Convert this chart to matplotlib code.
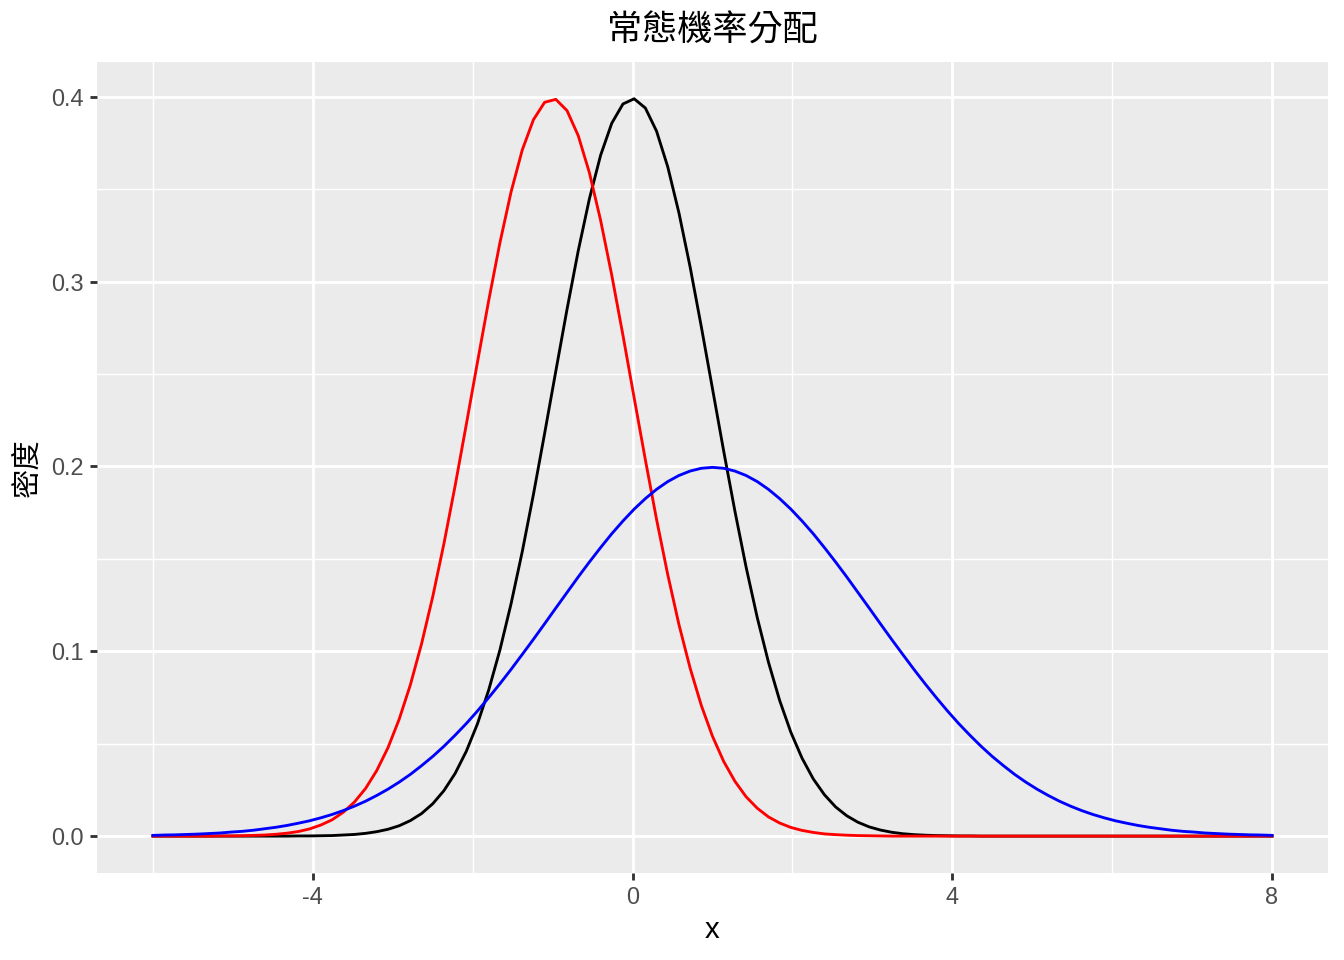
import numpy as np
import matplotlib
matplotlib.use("Agg")
import matplotlib.pyplot as plt

# curve sample points (101 points across the plotted range)
x_vals = np.linspace(-6, 8, 101)

# N(0, 1) - black
y_black = [
    0.0, 0.0, 0.0, 0.0, 0.0, 0.0, 0.0, 0.0, 0.0, 0.0, 0.0, 0.0, 0.0,
    0.0001, 0.0001, 0.0002, 0.0003, 0.0006, 0.0009, 0.0015, 0.0024, 0.0037,
    0.0056, 0.0084, 0.0122, 0.0175, 0.0246, 0.0339, 0.0459, 0.0608, 0.0790,
    0.1006, 0.1257, 0.1539, 0.1849, 0.2179, 0.2516, 0.2850, 0.3166, 0.3448,
    0.3683, 0.3857, 0.3961, 0.3989, 0.3939, 0.3814, 0.3621, 0.3372, 0.3079,
    0.2756, 0.2420, 0.2083, 0.1759, 0.1456, 0.1182, 0.0941, 0.0734, 0.0562,
    0.0422, 0.0310, 0.0224, 0.0158, 0.0110, 0.0075, 0.0050, 0.0033, 0.0021,
    0.0013, 0.0008, 0.0005, 0.0003, 0.0002, 0.0001, 0.0001,
    0.0, 0.0, 0.0, 0.0, 0.0, 0.0, 0.0, 0.0, 0.0, 0.0, 0.0, 0.0, 0.0, 0.0,
    0.0, 0.0, 0.0, 0.0, 0.0, 0.0, 0.0, 0.0, 0.0, 0.0, 0.0, 0.0, 0.0,
]

# N(-1, 1) - red
y_red = [
    0.0, 0.0, 0.0, 0.0, 0.0, 0.0,
    0.0001, 0.0001, 0.0002, 0.0004, 0.0006, 0.0010, 0.0016, 0.0025, 0.0039,
    0.0060, 0.0088, 0.0129, 0.0184, 0.0258, 0.0355, 0.0478, 0.0632, 0.0818,
    0.1040, 0.1295, 0.1582, 0.1895, 0.2227, 0.2565, 0.2897, 0.3209, 0.3485,
    0.3712, 0.3876, 0.3970, 0.3986, 0.3925, 0.3790, 0.3589, 0.3332, 0.3034,
    0.2709, 0.2371, 0.2036, 0.1714, 0.1415, 0.1145, 0.0909, 0.0707, 0.0540,
    0.0404, 0.0297, 0.0213, 0.0151, 0.0104, 0.0071, 0.0047, 0.0031, 0.0020,
    0.0012, 0.0008, 0.0005, 0.0003, 0.0002, 0.0001,
    0.0, 0.0, 0.0, 0.0, 0.0, 0.0, 0.0, 0.0, 0.0, 0.0, 0.0, 0.0, 0.0, 0.0,
    0.0, 0.0, 0.0, 0.0, 0.0, 0.0, 0.0, 0.0, 0.0, 0.0, 0.0, 0.0, 0.0, 0.0,
    0.0, 0.0, 0.0, 0.0, 0.0, 0.0, 0.0,
]

# N(1, 2) - blue
y_blue = [
    0.0004, 0.0006, 0.0007, 0.0009, 0.0011, 0.0014, 0.0017, 0.0022, 0.0026,
    0.0032, 0.0040, 0.0048, 0.0058, 0.0070, 0.0083, 0.0099, 0.0117, 0.0138,
    0.0162, 0.0189, 0.0220, 0.0254, 0.0292, 0.0334, 0.0381, 0.0431, 0.0486,
    0.0546, 0.0609, 0.0677, 0.0749, 0.0824, 0.0902, 0.0983, 0.1065, 0.1149,
    0.1234, 0.1318, 0.1402, 0.1483, 0.1561, 0.1636, 0.1705, 0.1769, 0.1826,
    0.1876, 0.1918, 0.1951, 0.1975, 0.1990, 0.1995,
    0.1990, 0.1975, 0.1951, 0.1918, 0.1876, 0.1826, 0.1769, 0.1705, 0.1636,
    0.1561, 0.1483, 0.1402, 0.1318, 0.1234, 0.1149, 0.1065, 0.0983, 0.0902,
    0.0824, 0.0749, 0.0677, 0.0609, 0.0546, 0.0486, 0.0431, 0.0381, 0.0334,
    0.0292, 0.0254, 0.0220, 0.0189, 0.0162, 0.0138, 0.0117, 0.0099, 0.0083,
    0.0070, 0.0058, 0.0048, 0.0040, 0.0032, 0.0026, 0.0022, 0.0017, 0.0014,
    0.0011, 0.0009, 0.0007, 0.0006, 0.0004,
]

x_ticks = [-4, 0, 4, 8]
x_minor = [-6, -2, 2, 6]
y_ticks = [0.0, 0.1, 0.2, 0.3, 0.4]
y_minor = [0.05, 0.15, 0.25, 0.35]

plt.rcParams["font.family"] = ["Liberation Sans", "Noto Sans CJK TC", "DejaVu Sans"]

fig = plt.figure(figsize=(7, 5), dpi=192)
ax = fig.add_axes([97 / 1344, 1 - 873 / 960, (1328 - 97) / 1344, (873 - 62) / 960])
ax.set_facecolor("#EBEBEB")
for s in ax.spines.values():
    s.set_visible(False)

# ggplot-style grid: minor lines half the width of the major ones
for v in x_minor:
    ax.axvline(v, color="white", lw=0.53, zorder=0.5)
for v in y_minor:
    ax.axhline(v, color="white", lw=0.53, zorder=0.5)
for v in x_ticks:
    ax.axvline(v, color="white", lw=1.07, zorder=0.6)
for v in y_ticks:
    ax.axhline(v, color="white", lw=1.07, zorder=0.6)

lw = 1.07
ax.plot(x_vals, y_black, color="black", lw=lw, zorder=2)
ax.plot(x_vals, y_red, color="#FF0000", lw=lw, zorder=2)
ax.plot(x_vals, y_blue, color="#0000FF", lw=lw, zorder=2)

ax.set_xlim(-6.7, 8.7)
ax.set_ylim(-0.01995, 0.4188)
ax.set_xticks(x_ticks)
ax.set_xticklabels([str(t) for t in x_ticks])
ax.set_yticks(y_ticks)
ax.set_yticklabels([f"{t:.1f}" for t in y_ticks])
ax.tick_params(axis="both", length=2.75, width=1.07, color="#333333",
               labelsize=8.8, labelcolor="#4D4D4D", pad=2.2)

ax.set_xlabel("x", fontsize=11, labelpad=2.5)
ax.set_ylabel("密度", fontsize=11, labelpad=3.5)
ax.set_title("常態機率分配", fontsize=13.2, pad=8)

fig.savefig("out.png", dpi=192)
